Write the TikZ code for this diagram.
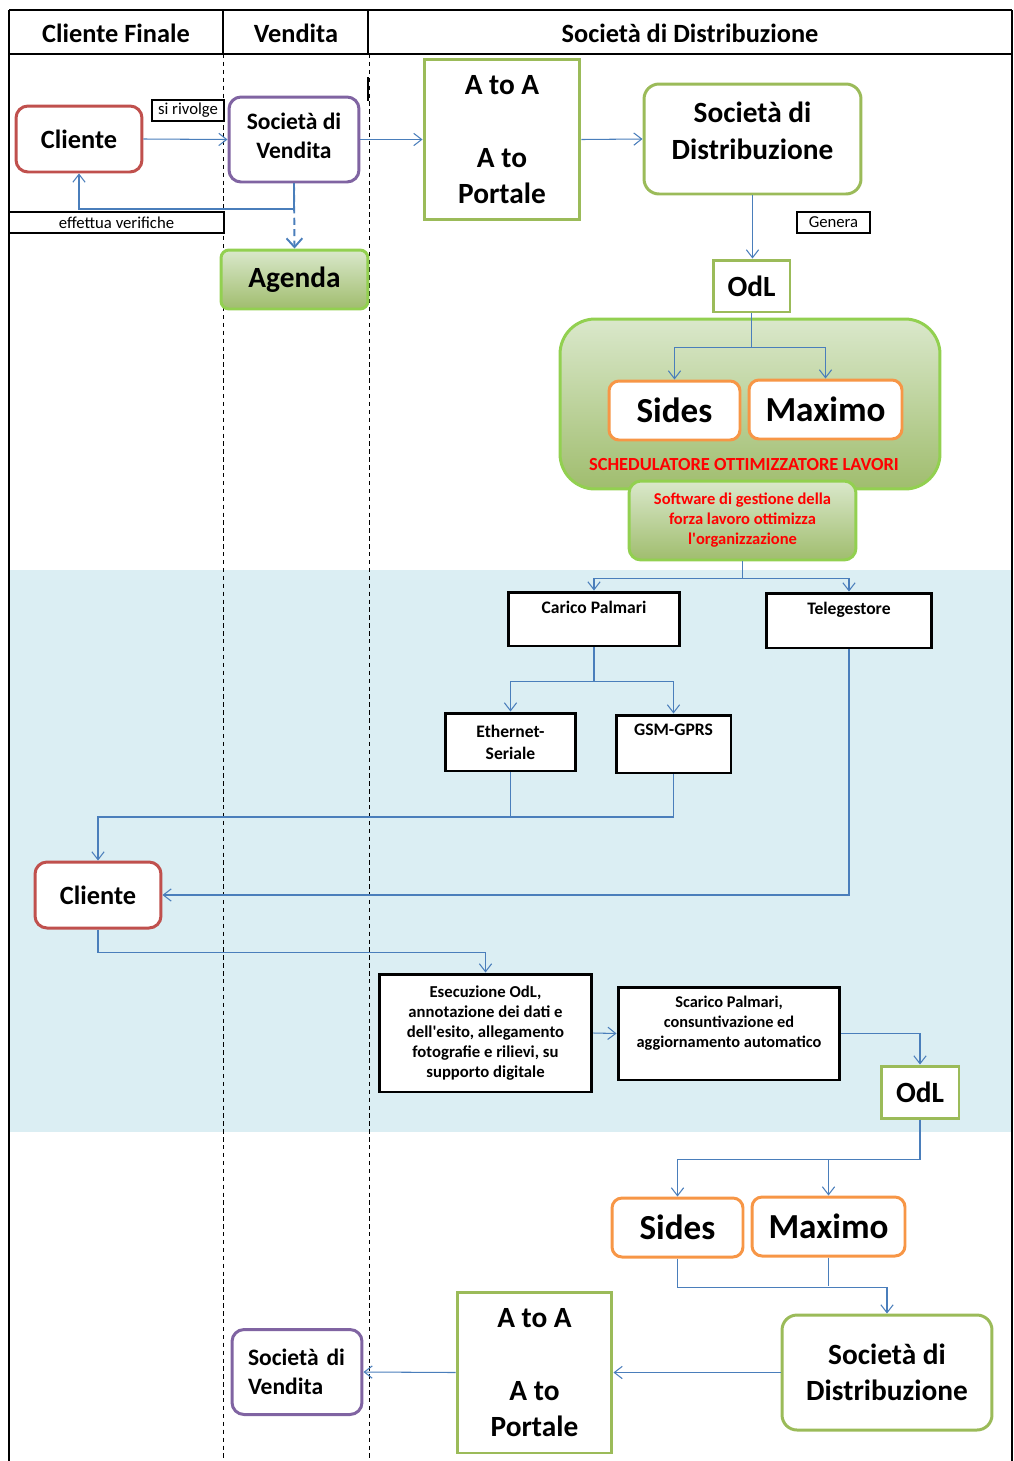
\documentclass[tikz,border=0pt]{standalone}
\usepackage{fontspec}
\setmainfont{Carlito}
\usepackage{tikz}
\usetikzlibrary{arrows.meta, positioning, calc}

\definecolor{lineblue}{RGB}{74,126,187}
\definecolor{bandblue}{RGB}{219,238,243}
\definecolor{clired}{RGB}{192,80,77}
\definecolor{vendpurple}{RGB}{128,100,162}
\definecolor{distgreen}{RGB}{155,187,89}
\definecolor{brightgreen}{RGB}{146,208,80}
\definecolor{sysorange}{RGB}{247,150,70}
\definecolor{gradtop}{RGB}{218,232,203}
\definecolor{gradbot}{RGB}{160,189,110}

\newcommand{\hdrfont}{\fontsize{15}{18}\selectfont\bfseries}
\newcommand{\clifont}{\fontsize{15}{18}\selectfont\bfseries}
\newcommand{\vendfont}{\fontsize{13.4}{16.4}\selectfont\bfseries}
\newcommand{\bigfont}{\fontsize{16.7}{20.8}\selectfont\bfseries}
\newcommand{\sysfont}{\fontsize{20}{24}\selectfont\bfseries}
\newcommand{\tagfont}{\fontsize{9.5}{11}\selectfont}
\newcommand{\boxfont}{\fontsize{10}{12.5}\selectfont\bfseries}
\newcommand{\smallbold}{\fontsize{9.4}{11.4}\selectfont\bfseries}

\begin{document}
\begin{tikzpicture}[x=0.02cm, y=-0.02cm,
  conn/.style={lineblue, line width=0.6pt, -{Straight Barb[length=4.5pt, width=7pt]}},
  link/.style={lineblue, line width=0.6pt},
  roundbox/.style={draw, rounded corners=0.24cm, line width=1.7pt, fill=white, align=center, inner sep=0pt},
  gradbox/.style={draw=brightgreen, line width=1.7pt, top color=gradtop, bottom color=gradbot, align=center, inner sep=0pt},
  plainbox/.style={draw=distgreen, line width=1.7pt, fill=white, align=center, inner sep=0pt},
  blackbox/.style={draw=black, line width=1.7pt, fill=white, align=center, inner sep=0pt, font=\boxfont},
  tagbox/.style={draw=black, line width=1.1pt, fill=white, inner sep=0pt, font=\tagfont},
  toptext/.style={anchor=north, yshift=-0.2cm, inner sep=0pt, align=center, font=\boxfont},
  uptext/.style={anchor=center, inner sep=0pt, align=center},
  lane/.style={black, line width=0.45pt, dash pattern=on 2.5pt off 2pt}
]
\useasboundingbox (0,0) rectangle (1014,1461);

% Field band
\fill[bandblue] (9,570) rectangle (1012,1132);

% Swimlanes
\draw[line width=1.2pt] (9,10) -- (1012,10);
\draw[line width=1.2pt] (9,54) -- (1012,54);
\draw[line width=1.2pt] (9,10) -- (9,1461);
\draw[line width=1.2pt] (1012,10) -- (1012,1461);
\draw[line width=1.2pt] (223,10) -- (223,54);
\draw[line width=1.2pt] (368,10) -- (368,54);
\draw[lane] (223,54) -- (223,1461);
\draw[lane] (369,54) -- (369,1461);
\draw[line width=1.5pt] (368,77) -- (368,101);
\node[font=\hdrfont] (hcli) at (116,33) {Cliente Finale};
\node[font=\hdrfont] (hvend) at (296,33) {Vendita};
\node[font=\hdrfont] (hdist) at (690,33) {Società di Distribuzione};

% Request
\node[roundbox, draw=clired, minimum width=2.52cm, minimum height=1.32cm, font=\clifont] (cli1) at (79,139) {Cliente};
\node[tagbox, minimum width=1.44cm, minimum height=0.42cm] (rivolge) at (188,110.5) {si rivolge};
\node[roundbox, draw=vendpurple, minimum width=2.6cm, minimum height=1.7cm,
  label={[uptext, yshift=0.08cm, font=\vendfont, name=sdv1txt]center:Società di\\Vendita}] (sdv1) at (294,139.5) {};
\node[tagbox, minimum width=4.3cm, minimum height=0.42cm] (verif) at (116.5,222.5) {effettua verifiche};
\node[gradbox, rounded corners=0.16cm, minimum width=2.94cm, minimum height=1.18cm, font=\bigfont] (agenda) at (294.5,279.5) {Agenda};
\node[plainbox, minimum width=3.12cm, minimum height=3.22cm, font=\bigfont] (ata1) at (502,139.5) {A to A\\\mbox{}\\A to\\Portale};
\node[roundbox, draw=distgreen, rounded corners=0.3cm, minimum width=4.34cm, minimum height=2.2cm,
  label={[uptext, yshift=0.16cm, font=\bigfont, name=sdd1txt]center:Società di\\Distribuzione}] (sdd1) at (752.5,139) {};
\node[tagbox, minimum width=1.46cm, minimum height=0.42cm] (genera) at (833.5,222.5) {Genera};
\node[plainbox, minimum width=1.54cm, minimum height=1.04cm, font=\bigfont] (odl1) at (751.5,286) {OdL};

% Scheduler
\node[gradbox, rounded corners=0.7cm, minimum width=7.6cm, minimum height=3.4cm] (sched) at (750,404) {};
\node[roundbox, draw=sysorange, rounded corners=0.2cm, minimum width=2.62cm, minimum height=1.18cm, font=\sysfont] (sides1) at (674.5,410.5) {Sides};
\node[roundbox, draw=sysorange, rounded corners=0.2cm, minimum width=3.06cm, minimum height=1.18cm, font=\sysfont] (maximo1) at (825.5,409.5) {Maximo};
\node[text=red, font=\fontsize{10.5}{12.5}\selectfont\bfseries] (schedtxt) at (744,465) {SCHEDULATORE OTTIMIZZATORE LAVORI};
\node[gradbox, rounded corners=0.24cm, minimum width=4.54cm, minimum height=1.58cm, text=red, font=\smallbold] (softw) at (742.5,520.5) {Software di gestione della\\forza lavoro ottimizza\\l\textquotesingle organizzazione};

% Field work
\node[blackbox, minimum width=3.44cm, minimum height=1.08cm, label={[toptext, name=caricotxt]north:Carico Palmari}] (carico) at (594,619) {};
\node[blackbox, minimum width=3.32cm, minimum height=1.1cm, label={[toptext, name=telegesttxt]north:Telegestore}] (telegest) at (849,620.5) {};
\node[blackbox, minimum width=2.62cm, minimum height=1.16cm] (ether) at (510.5,742) {Ethernet-\\Seriale};
\node[blackbox, minimum width=2.3cm, minimum height=1.16cm, label={[toptext, name=gsmtxt]north:GSM-GPRS}] (gsm) at (673.5,744) {};
\node[roundbox, draw=clired, minimum width=2.52cm, minimum height=1.32cm, font=\clifont] (cli2) at (98,895) {Cliente};
\node[blackbox, minimum width=4.26cm, minimum height=2.36cm, font=\fontsize{9.5}{11.3}\selectfont\bfseries] (esec) at (485.5,1033) {Esecuzione OdL,\\annotazione dei dati e\\dell\textquotesingle esito, allegamento\\fotografie e rilievi, su\\supporto digitale};
\node[blackbox, minimum width=4.44cm, minimum height=1.86cm, label={[toptext, font=\fontsize{9.3}{11.3}\selectfont\bfseries, name=scaricotxt]north:Scarico Palmari,\\consuntivazione ed\\aggiornamento automatico}] (scarico) at (729,1033.5) {};
\node[plainbox, minimum width=1.56cm, minimum height=1.04cm, font=\bigfont] (odl2) at (920,1092) {OdL};

% Return
\node[roundbox, draw=sysorange, rounded corners=0.2cm, minimum width=2.62cm, minimum height=1.18cm, font=\sysfont] (sides2) at (677.5,1227.5) {Sides};
\node[roundbox, draw=sysorange, rounded corners=0.2cm, minimum width=3.06cm, minimum height=1.18cm, font=\sysfont] (maximo2) at (828.5,1226.5) {Maximo};
\node[roundbox, draw=distgreen, rounded corners=0.3cm, minimum width=4.2cm, minimum height=2.3cm, font=\bigfont] (sdd2) at (887,1372.5) {Società di\\Distribuzione};
\node[plainbox, minimum width=3.1cm, minimum height=3.22cm, font=\bigfont] (ata2) at (534.5,1372.5) {A to A\\\mbox{}\\A to\\Portale};
\node[roundbox, draw=vendpurple, minimum width=2.6cm, minimum height=1.7cm, text width=1.96cm, align=left, font=\vendfont] (sdv2) at (297,1372) {Società di\\Vendita};

% Connectors
\draw[conn] (cli1.east) -- (sdv1.west);
\draw[conn] (sdv1.south) -- (sdv1.south |- 0,209) -| (cli1.south);
\draw[lineblue, line width=1.1pt, dash pattern=on 4pt off 2.5pt, -{Straight Barb[length=5pt, width=9pt]}] (sdv1.south) -- (agenda.north);
\draw[conn] (sdv1.east) -- (ata1.west);
\draw[conn] (ata1.east) -- (sdd1.west);
\draw[conn] (sdd1.south) -- (sdd1.south |- odl1.north);
\draw[conn] (odl1.south) -- ++(0,34) -| (sides1.north);
\draw[conn] (odl1.south) -- ++(0,34) -| (maximo1.north);
\draw[conn] (softw.south) -- ++(0,17) -| (carico.north);
\draw[conn] (softw.south) -- ++(0,17) -| (telegest.north);
\draw[conn] (carico.south) -- ++(0,34) -| (ether.north);
\draw[conn] (carico.south) -- ++(0,34) -| (gsm.north);
\draw[conn] (ether.south) -- (ether.south |- 0,817) -| (cli2.north);
\draw[link] (gsm.south) |- (ether.south |- 0,817);
\draw[conn] (telegest.south) |- (cli2.east);
\draw[conn] (cli2.south) -- ++(0,23) -| (esec.north);
\draw[conn] (esec.east) -- (scarico.west);
\draw[conn] (scarico.east) -| (odl2.north);
\draw[conn] (odl2.south) -- ++(0,40) -| (sides2.north);
\draw[conn] (odl2.south) -- ++(0,40) -| (maximo2.north);
\draw[conn] (sides2.south) -- ++(0,29) -| (sdd2.north);
\draw[link] (maximo2.south) -- (maximo2.south |- 0,1286);
\draw[conn] (sdd2.west) -- (ata2.east);
\draw[conn] (ata2.west) -- (sdv2.east);
\end{tikzpicture}
\end{document}
